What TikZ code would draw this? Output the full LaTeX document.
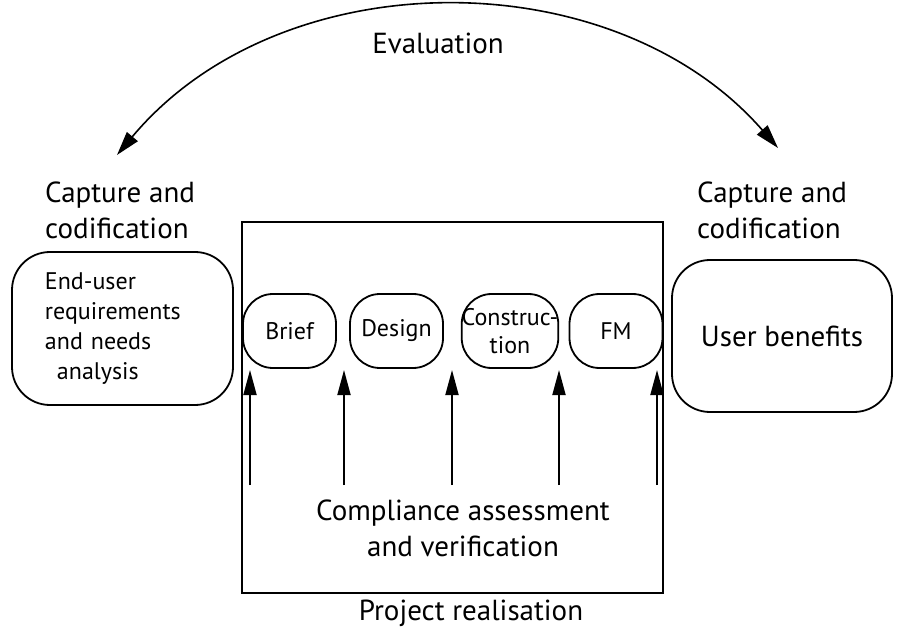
\documentclass[tikz,border=0pt]{standalone}
\usepackage{fontspec}
\setmainfont{PT Sans}
\usetikzlibrary{arrows.meta}

\begin{document}
\begin{tikzpicture}
[x=1pt,y=-1pt,
bigbox/.style={draw, line width=1.8pt, rounded corners=38pt, inner sep=0pt},
stagebox/.style={draw, line width=1.8pt, rounded corners=30pt, minimum width=93pt, minimum height=74pt, inner sep=0pt, font=\fontsize{24}{28}\selectfont, align=center},
txt/.style={inner sep=0pt, font=\fontsize{29}{36}\selectfont, align=left},
pfeil/.style={-{Triangle[length=25pt,width=13pt]}, line width=1.8pt},
]
\useasboundingbox (0,0) rectangle (911,631);

% evaluation arc
\coordinate (evl) at (117,155);
\coordinate (evr) at (778,148);
\draw[{Triangle[length=24pt,width=14pt]}-{Triangle[length=24pt,width=14pt]}, line width=1.6pt]
  (evl) .. controls (281,-41) and (613,-41) .. (evr);
\node[txt, anchor=base] (eval) at (438,54) {Evaluation};

% left and right
\node[txt, anchor=north west] (capl) at (45,182) {Capture and\\codification};
\node[txt, anchor=north west] (capr) at (697,182) {Capture and\\codification};
\node[bigbox, minimum width=221pt, minimum height=153pt, text width=155pt, inner xsep=33pt,
  align=left, font=\fontsize{24}{30}\selectfont] (needs) at (122.5,328.5)
  {End-user\\requirements\\and needs\\\hspace*{12pt}analysis};
\node[bigbox, minimum width=220pt, minimum height=152pt, font=\fontsize{29}{36}\selectfont] (benefit) at (782,336) {User benefits};

% project realisation
\node[draw, line width=2pt, minimum width=421pt, minimum height=371pt] (proj) at (452.5,407.5) {};
\node[txt, anchor=base] (projlbl) at (471,620) {Project realisation};

\node[stagebox] (brief) at (289.5,331) {Brief};
\node[stagebox] (design) at (396.5,331) {Design};
\node[stagebox] (constr) at (510,331) {Construc-\\tion};
\node[stagebox] (fm) at (616,331) {FM};

\foreach \xx [count=\i] in {250,344,452,559,657} {
  \coordinate (fuss\i) at (\xx,485);
  \coordinate (spitze\i) at (\xx,370);
  \draw[pfeil] (fuss\i) -- (spitze\i);
}

\node[txt, align=center, anchor=north] (comp) at (463,500) {Compliance assessment\\and verification};
\end{tikzpicture}
\end{document}
